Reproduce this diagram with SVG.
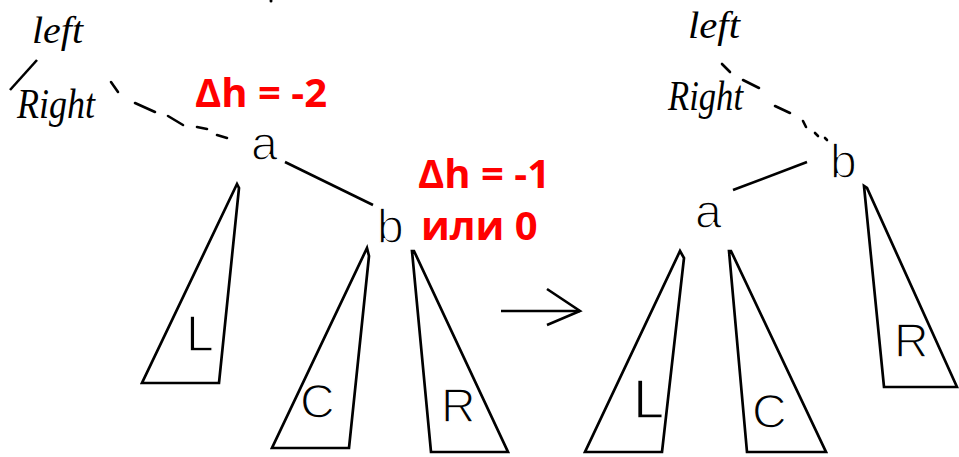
<svg xmlns="http://www.w3.org/2000/svg" width="959" height="457" viewBox="0 0 959 457">
<style>
.tri{fill:none;stroke:#000;stroke-width:2.7;stroke-linejoin:miter}
.lbl{font-family:"Liberation Sans",Arial,sans-serif;font-size:48px;fill:#000;stroke:#fff;stroke-width:1.4}
.hand{font-family:"Liberation Serif","Times New Roman",serif;font-style:italic;font-size:38px;fill:#000}
.red{font-family:"Open Sans","Noto Sans",sans-serif;font-weight:bold;font-size:40px;fill:#ff0000}
.edge{stroke:#000;stroke-width:2.6;fill:none;stroke-linecap:butt}
.dash{stroke:#000;stroke-width:2.6;fill:none;stroke-linecap:round}
</style>
<rect width="959" height="457" fill="#fff"/>
<circle cx="271" cy="1" r="1.5" fill="#000"/>

<g id="connectors">
  <line class="edge" x1="285" y1="162" x2="373" y2="205"/>
  <line class="edge" x1="807" y1="162" x2="733" y2="190"/>
  <g id="dash-left">
    <line class="dash" x1="111" y1="82" x2="118" y2="92"/>
    <line class="dash" x1="135" y1="103" x2="155" y2="112"/>
    <line class="dash" x1="168" y1="116" x2="183" y2="125"/>
    <line class="dash" x1="197" y1="127" x2="207" y2="129"/>
    <line class="dash" x1="217" y1="135" x2="227" y2="138"/>
  </g>
  <g id="dash-right">
    <line class="dash" x1="722" y1="64" x2="730" y2="72"/>
    <line class="dash" x1="743" y1="80" x2="759" y2="88"/>
    <line class="dash" x1="775" y1="106" x2="790" y2="113"/>
    <line class="dash" x1="803" y1="121" x2="806" y2="127"/>
    <line class="dash" x1="815" y1="133" x2="818" y2="136"/>
    <line class="dash" x1="825" y1="138" x2="827" y2="140"/>
  </g>
  <g id="arrow">
    <line class="edge" x1="501" y1="311" x2="580" y2="311"/>
    <polyline class="edge" points="547,289 580,311 547,325"/>
  </g>
</g>

<g id="hand-left">
  <text class="hand" x="32" y="43" textLength="51" lengthAdjust="spacingAndGlyphs">left</text>
  <line class="edge" x1="10" y1="90" x2="37" y2="60" stroke-linecap="round"/>
  <text class="hand" x="17" y="118" textLength="78" lengthAdjust="spacingAndGlyphs" style="font-size:42px">Right</text>
</g>
<g id="hand-right">
  <text class="hand" x="688" y="38" textLength="52" lengthAdjust="spacingAndGlyphs">left</text>
  <text class="hand" x="668" y="110" textLength="75" lengthAdjust="spacingAndGlyphs" style="font-size:42px">Right</text>
</g>

<g id="delta-a"><text class="red" x="195" y="107">Δh = -2</text></g>
<g id="delta-b">
  <text class="red" x="418" y="188">Δh = -1</text>
  <text class="red" x="421" y="240">или 0</text>
</g>

<!-- left tree -->
<g id="left-a"><text class="lbl" x="251" y="160">a</text></g>
<g id="left-b"><text class="lbl" x="377" y="243">b</text></g>
<g id="left-L">
  <polygon class="tri" points="237,184 239,188 219,383 142,383"/>
  <text class="lbl" x="186" y="351" style="font-size:50px">L</text>
</g>
<g id="left-C">
  <polygon class="tri" points="367,248 369,256 349,448 272,448"/>
  <text class="lbl" x="300" y="418">C</text>
</g>
<g id="left-R">
  <polygon class="tri" points="412,251 431,452 508,452 414,251"/>
  <text class="lbl" x="441" y="422">R</text>
</g>

<!-- right tree -->
<g id="right-b"><text class="lbl" x="830" y="178">b</text></g>
<g id="right-a"><text class="lbl" x="695" y="228">a</text></g>
<g id="right-L">
  <polygon class="tri" points="680,251 684,258 662,452 585,452"/>
  <text class="lbl" x="633" y="418" style="font-size:56px">L</text>
</g>
<g id="right-C">
  <polygon class="tri" points="729,251 747,452 826,452 731,251"/>
  <text class="lbl" x="752" y="428">C</text>
</g>
<g id="right-R">
  <polygon class="tri" points="864,186 884,387 957,387 867,188"/>
  <text class="lbl" x="894" y="357">R</text>
</g>
</svg>
